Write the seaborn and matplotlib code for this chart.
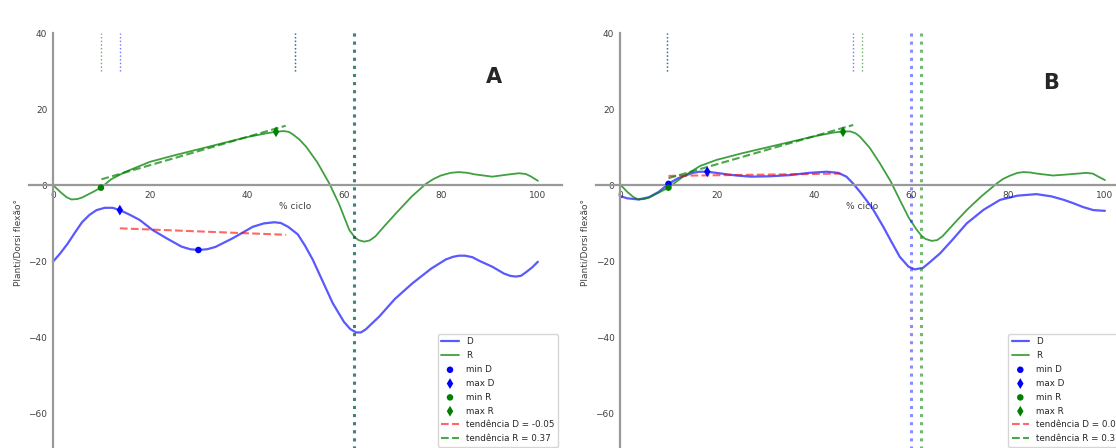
import matplotlib
matplotlib.use("Agg")
import matplotlib.pyplot as plt
import seaborn as sns
import pandas as pd

sns.set_style("white")
plt.rcParams["font.family"] = ["DejaVu Sans"]

# ---------------- data: panel A ----------------
a_D_x = [0, 1.5, 3, 4.5, 6, 7.5, 9, 10.7, 12.3, 13.8, 15.8, 17.9, 20.5, 23.4, 26.5, 28.3, 30,
         31.8, 33.5, 37.1, 41.2, 43.5, 45.7, 47, 48.5, 50.5, 52, 53.6, 55.5, 57.7, 60, 61.3,
         62.5, 63.5, 64.5, 67.3, 70.5, 74.1, 78, 81, 82.5, 83.7, 85, 86.5, 88, 90.6, 93, 94.3,
         95.4, 96.5, 97.5, 98.8, 100]
a_D_y = [-20.2, -18.0, -15.5, -12.6, -9.8, -7.9, -6.6, -6.0, -6.0, -6.6, -7.8, -9.2, -11.8,
         -14.0, -16.2, -16.9, -17.1, -16.9, -16.3, -14.0, -11.0, -10.1, -9.8, -10.0, -11.0,
         -13.0, -16.0, -19.7, -25.0, -31.1, -36.0, -37.9, -38.8, -38.8, -38.0, -34.6, -30.0,
         -25.9, -22.0, -19.6, -18.9, -18.6, -18.6, -19.0, -20.0, -21.5, -23.3, -23.9, -24.1,
         -23.9, -23.0, -21.7, -20.2]
a_R_x = [0, 1.5, 2.8, 3.8, 5, 6, 8, 9.9, 12, 15, 20, 25, 30, 35, 40, 44, 46, 47.5, 48.6, 49.5,
         50.8, 52.2, 54.5, 57, 59, 61.1, 62.2, 63, 64.2, 65.3, 66.5, 68.5, 70.7, 74, 76.9, 78.5,
         80, 82, 83.7, 85.5, 87, 90.6, 93.5, 96.1, 97.5, 98.5, 100]
a_R_y = [0, -1.8, -3.2, -3.8, -3.7, -3.3, -2.0, -0.7, 1.5, 3.5, 6.1, 7.8, 9.4, 11.0, 12.6,
         13.6, 14.0, 14.2, 14.0, 13.3, 12.0, 10.1, 6.0, 0.4, -5.0, -11.8, -13.7, -14.5, -14.9,
         -14.6, -13.5, -10.6, -7.5, -3.0, 0.3, 1.6, 2.5, 3.2, 3.4, 3.2, 2.8, 2.2, 2.7, 3.1, 2.9,
         2.3, 1.1]
a_minD = (30.0, -17.1)
a_maxD = (13.8, -6.6)
a_minR = (9.9, -0.7)
a_maxR = (46.0, 14.0)
a_trendD_x = [13.8, 48.1]
a_trendD_y = [-11.4, -13.1]
a_trendR_x = [10.0, 48.0]
a_trendR_y = [1.5, 15.6]
a_trendD_label = "tendência D = -0.05"
a_trendR_label = "tendência R = 0.37"
a_short_D = [13.9, 49.9]
a_short_R = [10.0, 49.9]
a_long_D = [62.0]
a_long_R = [62.0]

# ---------------- data: panel B ----------------
b_D_x = [0, 1.5, 3.8, 6, 8, 10, 12, 15, 16.5, 18, 21, 24, 27, 31, 35, 39, 42.6, 45, 46.7, 48,
         49.5, 52, 54.3, 56, 57.7, 59.5, 60.8, 62.5, 64, 66, 68.5, 71.5, 75, 78.4, 82, 85.9,
         89, 91.5, 93.5, 95.5, 97.6, 100]
b_D_y = [-2.9, -3.5, -3.8, -3.2, -1.8, 0.3, 1.8, 3.2, 3.5, 3.5, 3.0, 2.5, 2.2, 2.3, 2.6, 3.2,
         3.5, 3.2, 2.2, 0.5, -1.8, -6.0, -11.0, -15.0, -18.9, -21.5, -22.2, -21.8, -20.2,
         -18.0, -14.5, -10.1, -6.5, -3.9, -2.8, -2.4, -3.0, -3.9, -4.8, -5.8, -6.6, -6.8]
b_R_x = [0, 1.5, 2.8, 3.8, 5, 6, 8, 10, 13, 16.5, 19.9, 25, 30, 35, 40, 44, 46, 47.5, 48.6,
         49.5, 51.5, 53.6, 55.8, 57.7, 59.5, 61.2, 62.2, 63, 64.3, 65.4, 66.5, 69, 71.5, 74.5,
         77.7, 79, 80.5, 82, 83.2, 84.6, 86, 89.3, 92.5, 96.2, 97.5, 98.5, 100]
b_R_y = [0.2, -1.8, -3.2, -3.8, -3.7, -3.3, -2.0, -0.7, 2.2, 5.0, 6.6, 8.3, 9.8, 11.3, 12.8,
         13.8, 14.1, 14.1, 13.6, 12.7, 9.8, 5.7, 1.0, -3.9, -8.5, -11.8, -13.4, -14.2, -14.7,
         -14.5, -13.5, -10.0, -6.6, -3.0, 0.4, 1.6, 2.5, 3.2, 3.4, 3.3, 3.0, 2.5, 2.8, 3.2,
         3.0, 2.3, 1.3]
b_minD = (10.0, 0.3)
b_maxD = (18.0, 3.5)
b_minR = (10.0, -0.7)
b_maxR = (46.0, 14.0)
b_trendD_x = [10.0, 45.5]
b_trendD_y = [2.4, 3.0]
b_trendR_x = [10.0, 48.1]
b_trendR_y = [1.8, 15.8]
b_trendD_label = "tendência D = 0.02"
b_trendR_label = "tendência R = 0.37"
b_short_D = [9.8, 48.0]
b_short_R = [9.8, 50.0]
b_long_D = [60.0]
b_long_R = [62.0]

x_ticks = [0, 20, 40, 60, 80, 100]
y_ticks = [40, 20, 0, -20, -40, -60]
x_label = "% ciclo"
y_label = "Planti/Dorsi flexão°"

panels = [
    dict(Dx=a_D_x, Dy=a_D_y, Rx=a_R_x, Ry=a_R_y, minD=a_minD, maxD=a_maxD, minR=a_minR,
         maxR=a_maxR, tDx=a_trendD_x, tDy=a_trendD_y, tRx=a_trendR_x, tRy=a_trendR_y,
         tDl=a_trendD_label, tRl=a_trendR_label, sD=a_short_D, sR=a_short_R,
         lD=a_long_D, lR=a_long_R, letter="A", letter_xy=(91, 28.4), left=0.0257),
    dict(Dx=b_D_x, Dy=b_D_y, Rx=b_R_x, Ry=b_R_y, minD=b_minD, maxD=b_maxD, minR=b_minR,
         maxR=b_maxR, tDx=b_trendD_x, tDy=b_trendD_y, tRx=b_trendR_x, tRy=b_trendR_y,
         tDl=b_trendD_label, tRl=b_trendR_label, sD=b_short_D, sR=b_short_R,
         lD=b_long_D, lR=b_long_R, letter="B", letter_xy=(88.9, 26.8), left=0.5338),
]

fig = plt.figure(figsize=(11.16, 4.48), dpi=100)

for p in panels:
    ax = fig.add_axes([p["left"], -0.0067, 0.478, 0.933])
    dfD = pd.DataFrame({"x": p["Dx"], "y": p["Dy"]})
    dfR = pd.DataFrame({"x": p["Rx"], "y": p["Ry"]})
    sns.lineplot(data=dfD, x="x", y="y", ax=ax, color="blue", alpha=0.65, lw=1.6,
                 label="D", estimator=None, sort=False, solid_joinstyle="round")
    sns.lineplot(data=dfR, x="x", y="y", ax=ax, color="green", alpha=0.75, lw=1.3,
                 label="R", estimator=None, sort=False, solid_joinstyle="round")
    sns.scatterplot(x=[p["minD"][0]], y=[p["minD"][1]], ax=ax, color="blue", marker="o",
                    s=22, edgecolor="none", label="min D", zorder=5)
    sns.scatterplot(x=[p["maxD"][0]], y=[p["maxD"][1]], ax=ax, color="blue", marker="d",
                    s=30, edgecolor="none", label="max D", zorder=5)
    sns.scatterplot(x=[p["minR"][0]], y=[p["minR"][1]], ax=ax, color="green", marker="o",
                    s=22, edgecolor="none", label="min R", zorder=5)
    sns.scatterplot(x=[p["maxR"][0]], y=[p["maxR"][1]], ax=ax, color="green", marker="d",
                    s=30, edgecolor="none", label="max R", zorder=5)
    sns.lineplot(x=p["tDx"], y=p["tDy"], ax=ax, color="red", alpha=0.6, lw=1.5,
                 linestyle="--", label=p["tDl"], estimator=None)
    sns.lineplot(x=p["tRx"], y=p["tRy"], ax=ax, color="green", alpha=0.7, lw=1.5,
                 linestyle="--", label=p["tRl"], estimator=None)

    # short marker lines at top
    ax.vlines(p["sD"], 30, 40, colors="blue", linestyles=":", lw=1.0, alpha=0.55)
    ax.vlines(p["sR"], 30, 40, colors="green", linestyles=":", lw=1.0, alpha=0.6)
    # long lines
    for xv in p["lD"]:
        ax.axvline(xv, color="blue", linestyle=":", lw=2.2, alpha=0.45)
    for xv in p["lR"]:
        ax.axvline(xv, color="green", linestyle=":", lw=2.2, alpha=0.55)

    ax.set_xlim(-5, 105)
    ax.set_ylim(-70, 40)
    ax.set_xticks(x_ticks)
    ax.set_yticks(y_ticks)
    ax.spines["left"].set_position("zero")
    ax.spines["bottom"].set_position("zero")
    ax.spines["top"].set_visible(False)
    ax.spines["right"].set_visible(False)
    for s in ("left", "bottom"):
        ax.spines[s].set_color("0.6")
        ax.spines[s].set_linewidth(1.6)
    ax.tick_params(axis="both", labelsize=6.5, colors="0.6", labelcolor="0.25",
                   length=2.5, width=0.8, direction="out", pad=1.5)
    ax.set_xlabel(x_label, fontsize=6.5, color="0.25", labelpad=2)
    ax.set_ylabel(y_label, fontsize=6.5, color="0.25", labelpad=4)
    ax.text(p["letter_xy"][0], p["letter_xy"][1], p["letter"], fontsize=15,
            fontweight="bold", ha="center", va="center")
    ax.patch.set_alpha(0)
    ax.legend(loc="lower right", fontsize=6.3, frameon=True, handlelength=2.0,
              borderaxespad=0.5, labelspacing=0.55)

fig.savefig("out.png", dpi=100)
